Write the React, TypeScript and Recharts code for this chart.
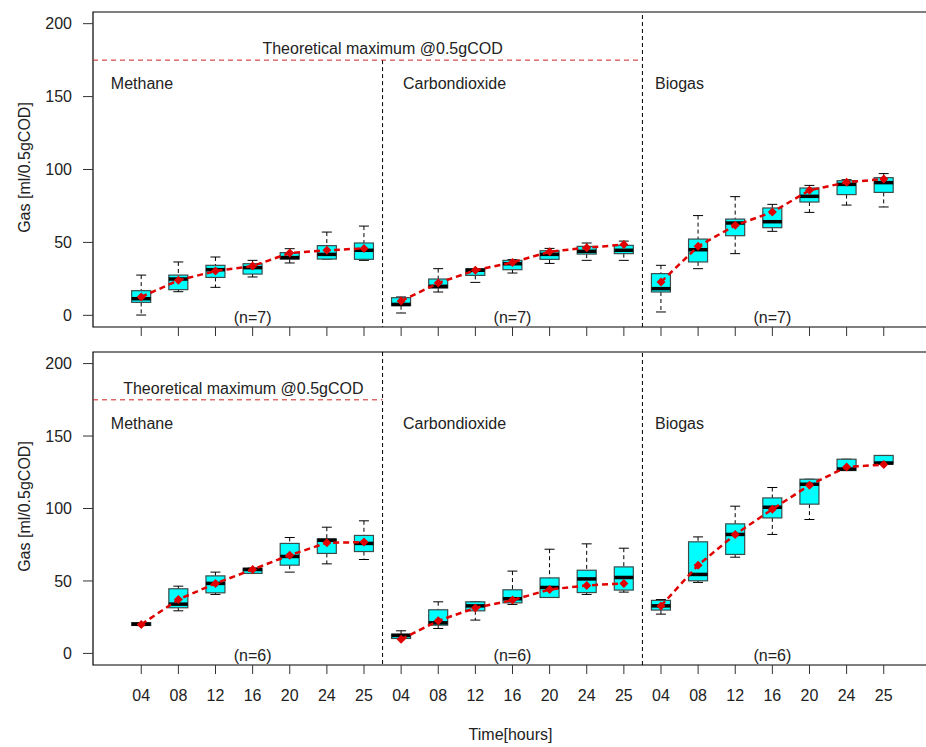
import React from "react";
import {
  ComposedChart,
  Bar,
  Line,
  XAxis,
  YAxis,
  ReferenceLine,
  ReferenceArea,
  ReferenceDot,
} from "recharts";

const hours = ["04", "08", "12", "16", "20", "24", "25"];
const gases = ["Methane", "Carbondioxide", "Biogas"];
const yTicks = [0, 50, 100, 150, 200];
const theoreticalMax = 175;

// each box: [min, q1, median, q3, max, mean]
const topMethane = [
  [0.2, 8.9, 11.4, 16.9, 27.6, 12.6],
  [16.2, 17.6, 24.9, 27.6, 36.6, 24.0],
  [19.2, 26.0, 31.3, 34.3, 40.0, 30.4],
  [26.3, 28.3, 32.7, 35.4, 37.7, 33.8],
  [35.9, 38.6, 39.6, 43.0, 45.7, 42.7],
  [38.6, 38.6, 41.8, 47.8, 57.1, 44.6],
  [37.7, 38.4, 44.6, 49.6, 61.2, 45.9],
];
const topCarbondioxide = [
  [1.6, 6.6, 7.5, 12.1, 12.6, 9.8],
  [16.0, 18.7, 19.9, 24.9, 32.0, 22.2],
  [22.6, 27.4, 30.9, 32.0, 32.0, 30.9],
  [29.0, 31.3, 35.4, 37.7, 38.2, 36.3],
  [35.6, 38.4, 41.8, 44.3, 45.9, 43.6],
  [37.7, 42.0, 43.9, 47.3, 49.6, 46.4],
  [37.7, 42.3, 44.6, 48.0, 50.9, 48.5],
];
const topBiogas = [
  [2.3, 16.0, 18.3, 28.6, 34.3, 22.9],
  [32.0, 36.6, 45.0, 52.3, 68.4, 47.3],
  [42.3, 54.6, 63.3, 66.0, 81.4, 61.7],
  [57.6, 60.1, 64.2, 73.6, 76.1, 70.8],
  [70.6, 77.7, 81.6, 87.3, 89.1, 85.7],
  [75.6, 82.8, 89.8, 92.3, 93.0, 91.2],
  [74.3, 84.3, 91.0, 94.4, 97.2, 93.5],
];

const bottomMethane = [
  [19.2, 19.3, 20.2, 21.2, 21.3, 20.0],
  [29.4, 31.5, 34.0, 44.6, 46.4, 37.2],
  [40.7, 41.8, 48.3, 53.5, 56.1, 48.3],
  [55.2, 55.2, 57.9, 58.8, 58.8, 57.9],
  [56.1, 60.9, 66.9, 75.9, 80.0, 67.8],
  [61.8, 69.0, 78.1, 79.0, 87.1, 76.3],
  [64.8, 70.3, 75.9, 81.4, 91.5, 76.8],
];
const bottomCarbondioxide = [
  [10.3, 10.3, 12.4, 13.3, 15.6, 9.7],
  [17.2, 19.5, 21.1, 30.1, 35.6, 22.5],
  [23.0, 29.4, 32.8, 35.6, 35.6, 31.4],
  [33.8, 34.9, 37.7, 43.9, 56.8, 36.8],
  [38.6, 38.6, 45.5, 52.1, 71.9, 44.1],
  [40.7, 42.0, 51.4, 57.4, 75.6, 46.9],
  [42.3, 43.7, 52.4, 59.7, 72.6, 48.3],
];
const bottomBiogas = [
  [27.1, 29.9, 32.8, 36.6, 37.2, 32.8],
  [49.0, 50.1, 54.5, 77.0, 80.4, 60.9],
  [66.4, 68.3, 82.1, 89.4, 101.6, 82.1],
  [82.1, 93.5, 100.9, 107.3, 114.5, 99.5],
  [92.4, 103.0, 116.8, 120.2, 120.2, 116.1],
  [126.2, 126.2, 127.3, 134.0, 134.0, 128.7],
  [130.6, 130.6, 131.4, 136.6, 136.6, 130.3],
];

const X_DOMAIN: [number, number] = [-1.3, 21.3];
const Y_DOMAIN: [number, number] = [-8, 208];
const xTicks = Array.from({ length: 21 }, (_, i) => i);
const TEXT = "#222";
const RED = "#e00000";

function buildRows(groups: number[][][]) {
  const rows: any[] = [];
  groups.forEach((boxes, g) => {
    boxes.forEach((b, i) => {
      const row: any = {
        pos: g * 7 + i,
        range: [b[0], b[4]],
        min: b[0],
        q1: b[1],
        med: b[2],
        q3: b[3],
        max: b[4],
      };
      row["mean" + g] = b[5];
      rows.push(row);
    });
  });
  return rows;
}

const topRows = buildRows([topMethane, topCarbondioxide, topBiogas]);
const bottomRows = buildRows([bottomMethane, bottomCarbondioxide, bottomBiogas]);

// whiskers + box + median, scaled from the bar's own [min, max] extent
function BoxShape(props: any) {
  const { x, y, width, height, payload } = props;
  if (!payload || x == null || y == null) return <g />;
  const top = Math.min(y, y + height);
  const bottom = Math.max(y, y + height);
  const span = payload.max - payload.min;
  const py = (v: number) =>
    span > 0 ? bottom - ((v - payload.min) / span) * (bottom - top) : bottom;
  const cx = x + width / 2;
  const cap = 5;
  return (
    <g>
      <line x1={cx} x2={cx} y1={py(payload.max)} y2={py(payload.q3)} stroke="#000" strokeDasharray="4 3" />
      <line x1={cx} x2={cx} y1={py(payload.q1)} y2={py(payload.min)} stroke="#000" strokeDasharray="4 3" />
      <line x1={cx - cap} x2={cx + cap} y1={py(payload.max)} y2={py(payload.max)} stroke="#000" />
      <line x1={cx - cap} x2={cx + cap} y1={py(payload.min)} y2={py(payload.min)} stroke="#000" />
      <rect
        x={x}
        y={py(payload.q3)}
        width={width}
        height={Math.max(py(payload.q1) - py(payload.q3), 0.5)}
        fill="#00ffff"
        stroke="#3b4b4b"
        strokeWidth={1.2}
      />
      <line x1={x} x2={x + width} y1={py(payload.med)} y2={py(payload.med)} stroke="#000" strokeWidth={3.5} />
    </g>
  );
}

const diamond = (p: any) => {
  const { cx, cy, key, value } = p;
  if (cx == null || cy == null || value == null) return <g key={key} />;
  const s = 4.5;
  return (
    <path
      key={key}
      d={`M${cx},${cy - s}L${cx + s},${cy}L${cx},${cy + s}L${cx - s},${cy}Z`}
      fill={RED}
    />
  );
};

function textDot(x: number, y: number, value: string, position: "right" | "center") {
  return (
    <ReferenceDot
      key={value + x}
      x={x}
      y={y}
      r={0}
      fill="none"
      stroke="none"
      ifOverflow="visible"
      label={{ value, position, offset: 0, fontSize: 16, fill: TEXT }}
    />
  );
}

interface PanelProps {
  rows: any[];
  top: number;
  height: number;
  axisHeight: number;
  n: number;
  maxEnd: number;
  maxLabelX: number;
  firstSepTop: number;
  showTickLabels: boolean;
}

function Panel({ rows, top, height, axisHeight, n, maxEnd, maxLabelX, firstSepTop, showTickLabels }: PanelProps) {
  return (
    <div style={{ position: "absolute", left: 0, top }}>
      <ComposedChart
        width={940}
        height={height}
        data={rows}
        margin={{ top: 12, right: 8, bottom: 0, left: 0 }}
      >
        <XAxis
          type="number"
          dataKey="pos"
          domain={X_DOMAIN}
          ticks={xTicks}
          interval={0}
          allowDataOverflow
          height={axisHeight}
          axisLine={false}
          tickSize={9}
          tickMargin={16}
          stroke="#333"
          tick={{ fontSize: 16, fill: TEXT }}
          tickFormatter={(v: number) => (showTickLabels ? hours[v % 7] : "")}
          label={
            showTickLabels
              ? (p: any) => {
                  const vb = p.viewBox;
                  return (
                    <text x={vb.x + vb.width / 2 - 2} y={vb.y + 75} textAnchor="middle" fontSize={16} fill={TEXT}>
                      Time[hours]
                    </text>
                  );
                }
              : undefined
          }
        />
        <YAxis
          type="number"
          domain={Y_DOMAIN}
          ticks={yTicks}
          width={93}
          axisLine={false}
          tickSize={10}
          tickMargin={11}
          stroke="#333"
          tick={{ fontSize: 16, fill: TEXT }}
          label={(p: any) => {
            const vb = p.viewBox;
            const cy = vb.y + vb.height / 2 - 2;
            return (
              <text
                x={30}
                y={cy}
                transform={`rotate(-90 30 ${cy})`}
                textAnchor="middle"
                fontSize={16}
                fill={TEXT}
              >
                Gas [ml/0.5gCOD]
              </text>
            );
          }}
        />
        <ReferenceArea
          x1={X_DOMAIN[0]}
          x2={X_DOMAIN[1]}
          y1={Y_DOMAIN[0]}
          y2={Y_DOMAIN[1]}
          fill="none"
          stroke="#000"
          strokeWidth={1.2}
        />
        <ReferenceLine
          segment={[
            { x: 6.5, y: firstSepTop },
            { x: 6.5, y: Y_DOMAIN[0] },
          ]}
          stroke="#000"
          strokeDasharray="4 3"
        />
        <ReferenceLine x={13.5} stroke="#000" strokeDasharray="4 3" />
        <ReferenceLine
          segment={[
            { x: X_DOMAIN[0], y: theoreticalMax },
            { x: maxEnd, y: theoreticalMax },
          ]}
          stroke="#cc2222"
          strokeDasharray="5 4"
        />
        {textDot(maxLabelX, 183, "Theoretical maximum @0.5gCOD", "center")}
        {textDot(-0.82, 159, gases[0], "right")}
        {textDot(7.05, 159, gases[1], "right")}
        {textDot(13.84, 159, gases[2], "right")}
        {[3, 10, 17].map((x) => textDot(x, -1.5, `(n=${n})`, "center"))}
        <Bar dataKey="range" barSize={19} shape={<BoxShape />} isAnimationActive={false} />
        {[0, 1, 2].map((g) => (
          <Line
            key={g}
            dataKey={"mean" + g}
            stroke={RED}
            strokeWidth={2.5}
            strokeDasharray="6 4"
            dot={diamond}
            activeDot={false}
            connectNulls={false}
            isAnimationActive={false}
          />
        ))}
      </ComposedChart>
    </div>
  );
}

export default function App() {
  return (
    <div
      style={{
        position: "relative",
        width: 926,
        height: 747,
        overflow: "hidden",
        background: "#fff",
        fontFamily: "'Liberation Sans', Arial, sans-serif",
      }}
    >
      <style>{"body{margin:0}"}</style>
      <Panel
        rows={topRows}
        top={0}
        height={345}
        axisHeight={18}
        n={7}
        maxEnd={13.5}
        maxLabelX={6.5}
        firstSepTop={theoreticalMax}
        showTickLabels={false}
      />
      <Panel
        rows={bottomRows}
        top={340}
        height={407}
        axisHeight={82}
        n={6}
        maxEnd={6.5}
        maxLabelX={2.75}
        firstSepTop={Y_DOMAIN[1]}
        showTickLabels={true}
      />
    </div>
  );
}
